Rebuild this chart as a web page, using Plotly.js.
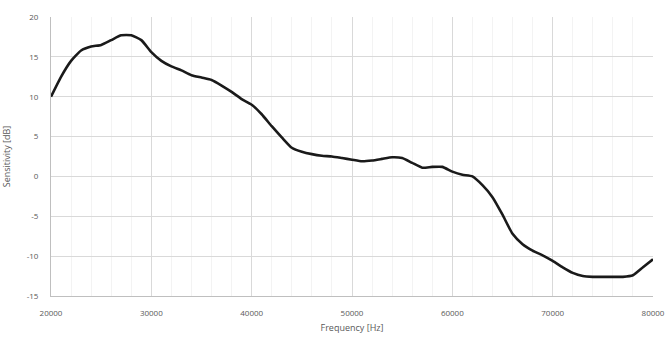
<!DOCTYPE html>
<html><head><meta charset="utf-8">
<script src="https://cdn.plot.ly/plotly-3.0.1.min.js"></script>
<style>html,body{margin:0;padding:0;background:#fff}#c{width:667px;height:339px}</style>
</head><body><div id="c"></div>
<script>
const freqHz = [20000,21000,22000,23000,24000,25000,26000,27000,28000,29000,30000,31000,32000,33000,34000,35000,36000,37000,38000,39000,40000,41000,42000,43000,44000,45000,46000,47000,48000,49000,50000,51000,52000,53000,54000,55000,56000,57000,58000,59000,60000,61000,62000,63000,64000,65000,66000,67000,68000,69000,70000,71000,72000,73000,74000,75000,76000,77000,78000,79000,80000];
const sensitivityDb = [10.0,12.5,14.5,15.8,16.3,16.5,17.1,17.7,17.7,17.1,15.6,14.5,13.8,13.3,12.7,12.4,12.1,11.4,10.6,9.7,9.0,7.8,6.3,4.9,3.6,3.1,2.8,2.6,2.5,2.3,2.1,1.9,2.0,2.2,2.4,2.3,1.7,1.1,1.2,1.2,0.6,0.2,0.0,-1.1,-2.6,-4.8,-7.2,-8.5,-9.3,-9.9,-10.6,-11.4,-12.1,-12.5,-12.6,-12.6,-12.6,-12.6,-12.4,-11.4,-10.4];
const xTicks = [20000,30000,40000,50000,60000,70000,80000];
const yTicks = [-15,-10,-5,0,5,10,15,20];

const font = {family:'"Open Sans", "Liberation Sans", sans-serif', size:8, color:'#595959'};
Plotly.newPlot('c', [{
  x: freqHz, y: sensitivityDb, type:'scatter', mode:'lines',
  line:{color:'#1a1a1a', width:2.6, shape:'spline', smoothing:0.5},
  hoverinfo:'skip'
}], {
  width:667, height:339,
  margin:{l:51, r:14, t:17, b:43},
  paper_bgcolor:'#fff', plot_bgcolor:'#fff',
  showlegend:false,
  font: font,
  xaxis:{range:[20000,80000], tickvals:xTicks, ticktext:xTicks.map(String),
    showgrid:true, gridcolor:'#d9d9d9', gridwidth:1,
    minor:{dtick:2000, showgrid:true, gridcolor:'#f3f3f3', gridwidth:1, ticks:''},
    showline:true, linecolor:'#bfbfbf', linewidth:1, zeroline:false,
    ticks:'', tickfont:font, ticklabelstandoff:9,
    title:{text:'Frequency [Hz]', font:{family:font.family, size:9, color:'#595959'}, standoff:8}},
  yaxis:{range:[-15,20], tickvals:yTicks, ticktext:yTicks.map(String),
    showgrid:true, gridcolor:'#d9d9d9', gridwidth:1,
    showline:true, linecolor:'#bfbfbf', linewidth:1, zeroline:false,
    ticks:'', tickfont:font, ticklabelstandoff:10,
    title:{text:'Sensitivity [dB]', font:{family:font.family, size:9, color:'#595959'}, standoff:14}}
}, {staticPlot:true, displayModeBar:false});
</script></body></html>
